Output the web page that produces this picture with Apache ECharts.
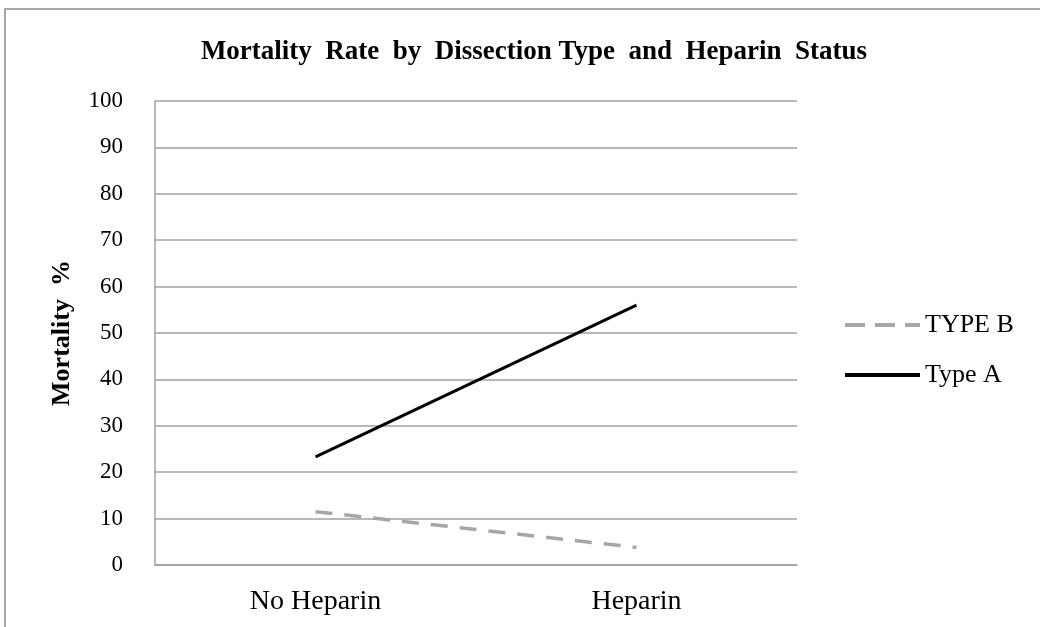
<!DOCTYPE html>
<html><head><meta charset="utf-8">
<script src="https://cdn.jsdelivr.net/npm/echarts@6/dist/echarts.min.js"></script>
<style>html,body{margin:0;padding:0;background:#fff}#c{width:1040px;height:627px}</style>
</head><body><div id="c"></div>
<script>
const categories = ['No Heparin', 'Heparin'];
const typeB = [11.5, 3.8];
const typeA = [23.3, 56];
const yTicks = {min: 0, max: 100, interval: 10};

const chart = echarts.init(document.getElementById('c'));
const serif = '"Liberation Serif", "Times New Roman", serif';
chart.setOption({
  animation: false,
  backgroundColor: '#fff',
  graphic: [{type: 'rect', shape: {x: 5, y: 9, width: 1100, height: 700}, style: {fill: 'none', stroke: '#8c8c8c', lineWidth: 1.5}}],
  title: {text: 'Mortality  Rate  by  Dissection Type  and  Heparin  Status', left: 529, textAlign: 'center', top: 34,
    textStyle: {fontFamily: serif, fontWeight: 'bold', fontSize: 27, color: '#000'}},
  legend: {orient: 'vertical', left: 838, top: 307, itemGap: 24, itemWidth: 75, itemHeight: 14,
    itemStyle: {opacity: 0},
    textStyle: {fontFamily: serif, fontSize: 26, lineHeight: 26, color: '#000', padding: [0, 0, 0, 0]},
    data: [
      {name: 'TYPE B', lineStyle: {color: '#a6a6a6', width: 4, type: [20, 10]}},
      {name: 'Type A', lineStyle: {color: '#000', width: 4, type: 'solid'}}
    ]},
  grid: {left: 155, right: 243, top: 101, bottom: 62},
  xAxis: {type: 'category', data: categories, boundaryGap: true,
    axisLine: {lineStyle: {color: '#a0a0a0', width: 1.5}}, axisTick: {show: false},
    axisLabel: {fontFamily: serif, fontSize: 28, color: '#000', margin: 23}},
  yAxis: {type: 'value', min: yTicks.min, max: yTicks.max, interval: yTicks.interval,
    name: 'Mortality  %', nameLocation: 'middle', nameGap: 80, nameRotate: 90,
    nameTextStyle: {fontFamily: serif, fontWeight: 'bold', fontSize: 26, color: '#000'},
    axisLine: {show: true, lineStyle: {color: '#a0a0a0', width: 1.5}}, axisTick: {show: false},
    axisLabel: {fontFamily: serif, fontSize: 23, color: '#000', margin: 32},
    splitLine: {lineStyle: {color: '#a0a0a0', width: 1.5}}},
  series: [
    {name: 'TYPE B', type: 'line', data: typeB, symbol: 'none', lineStyle: {color: '#a6a6a6', width: 3.5, type: [17, 12]}, itemStyle: {color: '#a6a6a6'}},
    {name: 'Type A', type: 'line', data: typeA, symbol: 'none', lineStyle: {color: '#000', width: 3}, itemStyle: {color: '#000'}}
  ]
});
</script></body></html>
